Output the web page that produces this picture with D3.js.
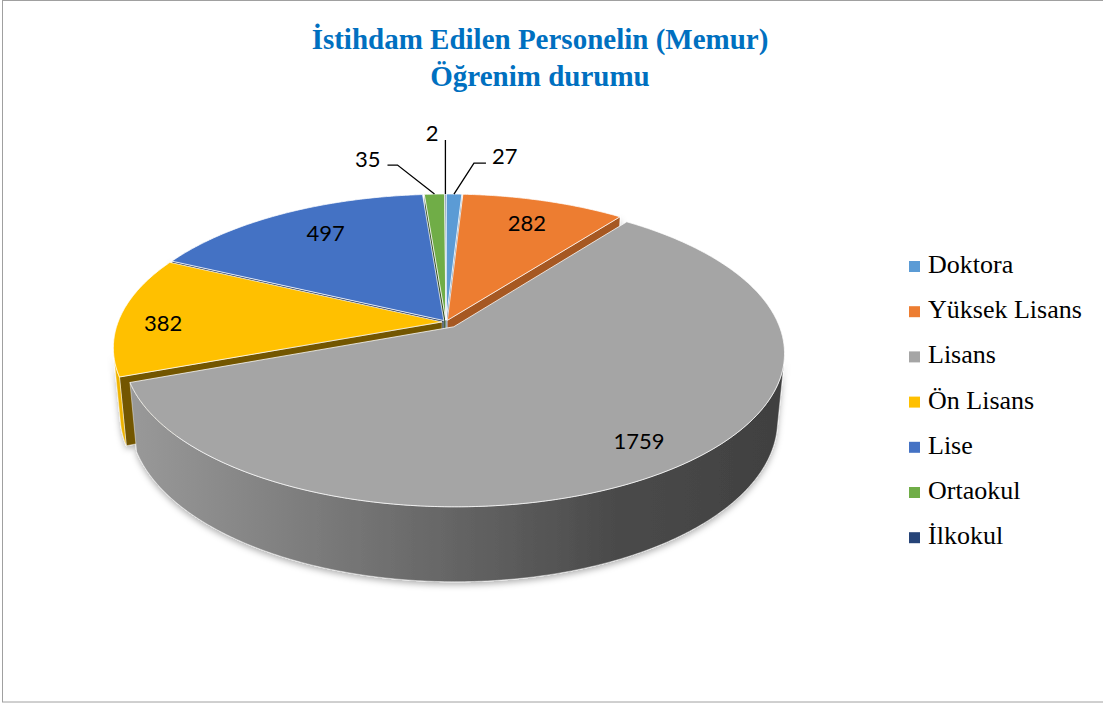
<!DOCTYPE html>
<html><head><meta charset="utf-8">
<script src="https://cdn.jsdelivr.net/npm/d3@7"></script>
<style>body{margin:0;background:#fff}</style>
</head><body>
<svg id="c" width="1103" height="704"></svg>
<script>
const categories = ["Doktora","Yüksek Lisans","Lisans","Ön Lisans","Lise","Ortaokul","İlkokul"];
const values = [27,282,1759,382,497,35,2];
const colors = ["#5B9BD5","#ED7D31","#A5A5A5","#FFC000","#4472C4","#70AD47","#264478"];
const explode = [0.012,0.012,0.04,0.012,0.012,0.012,0.012];
const titleLines = ["İstihdam Edilen Personelin (Memur)","Öğrenim durumu"];

const W=1103, H=704;
const svg = d3.select("#c");
svg.append("rect").attr("x",2.5).attr("y",0.5).attr("width",W+10).attr("height",701.5)
  .attr("fill","#fff").attr("stroke","#a0a0a0");

// 3D perspective projection
const cx=446, cy=322, phi=27.18*Math.PI/180, Dist=5.295, Foc=324*5.295, thick=0.233;
const sp=Math.sin(phi), cp=Math.cos(phi);
const cam=[0,Dist*sp,Dist*cp];
function proj(p){ const [X,Y,Z]=p; const pu=Y*cp-Z*sp; const pf=-Y*sp-Z*cp; const d=Dist+pf; return [cx+Foc*X/d, cy-Foc*pu/d]; }
const dir = t => [Math.sin(t),0,-Math.cos(t)];
const sub=(a,b)=>[a[0]-b[0],a[1]-b[1],a[2]-b[2]];
const dot=(a,b)=>a[0]*b[0]+a[1]*b[1]+a[2]*b[2];
const dist3=(p)=>Math.hypot(...sub(cam,p));

const defs=svg.append("defs");
const flt=defs.append("filter").attr("id","sh").attr("x","-20%").attr("y","-20%").attr("width","140%").attr("height","150%");
flt.append("feDropShadow").attr("dx",0).attr("dy",3).attr("stdDeviation",3).attr("flood-color","#000").attr("flood-opacity",0.3);

const pie=d3.pie().sort(null).value(d=>d)(values);
const line=d3.line();

const slices=pie.map((p,i)=>{
  const a=p.startAngle,b=p.endAngle,m=(a+b)/2;
  const dm=dir(m); const o=[dm[0]*explode[i],0,dm[2]*explode[i]];
  const rim=(t,y)=>[o[0]+Math.sin(t),y,o[2]-Math.cos(t)];
  const n=Math.max(2,Math.ceil((b-a)/(Math.PI/360)));
  const ts=d3.range(n+1).map(k=>a+(b-a)*k/n);
  return {i,a,b,m,o,rim,ts};
});

// gradients for outer walls
colors.forEach((c,i)=>{
  const g=defs.append("linearGradient").attr("id","g"+i).attr("gradientUnits","userSpaceOnUse")
    .attr("x1",cx-340).attr("x2",cx+340).attr("y1",0).attr("y2",0);
  const base=d3.rgb(c);
  [[0,0.95],[0.5,0.62],[0.75,0.45],[1,0.39]].forEach(([off,f])=>{
    g.append("stop").attr("offset",off).attr("stop-color",d3.rgb(base.r*f,base.g*f,base.b*f).formatHex());
  });
});

const walls=[];
slices.forEach(s=>{
  const base=d3.rgb(colors[s.i]);
  const scale=f=>d3.rgb(base.r*f,base.g*f,base.b*f).formatHex();
  // outer wall
  const vis=s.ts.filter(t=>dot(sub(cam,s.rim(t,0)),dir(t))>0);
  if(vis.length>=2){
    const top=vis.map(t=>proj(s.rim(t,0)));
    const bot=vis.slice().reverse().map(t=>proj(s.rim(t,-thick)));
    const mid=vis[Math.floor(vis.length/2)];
    walls.push({pts:top.concat(bot),fill:`url(#g${s.i})`,d:dist3(s.rim(mid,-thick/2))});
  }
  // radial faces
  [[s.a,[-Math.cos(s.a),0,-Math.sin(s.a)],0.45],[s.b,[Math.cos(s.b),0,Math.sin(s.b)],0.7]].forEach(([t,nrm,f])=>{
    const r=s.rim(t,0);
    const pm=[(s.o[0]+r[0])/2,-thick/2,(s.o[2]+r[2])/2];
    if(dot(sub(cam,pm),nrm)>0){
      const pts=[proj(s.o),proj(r),proj(s.rim(t,-thick)),proj([s.o[0],-thick,s.o[2]])];
      walls.push({pts,fill:scale(f),d:dist3(pm)});
    }
  });
});
walls.sort((x,y)=>y.d-x.d);
const gW=svg.append("g").attr("filter","url(#sh)");
gW.selectAll("path").data(walls).join("path")
  .attr("d",w=>line(w.pts)+"Z").attr("fill",w=>w.fill)
  .attr("stroke","rgba(255,255,255,0.55)").attr("stroke-width",0.8).attr("stroke-linejoin","round");

const gT=svg.append("g");
gT.selectAll("path").data(slices).join("path")
  .attr("d",s=>line([proj(s.o)].concat(s.ts.map(t=>proj(s.rim(t,0)))))+"Z")
  .attr("fill",s=>colors[s.i])
  .attr("stroke","rgba(255,255,255,0.75)").attr("stroke-width",1).attr("stroke-linejoin","round");

// data labels (radius fraction, angle shift in degrees)
const labelFont="Lato, 'Open Sans', sans-serif";
const inLabel={1:[0.8,0],2:[0.84,0],3:[0.86,-3],4:[0.78,3]};
const gL=svg.append("g").attr("font-family",labelFont).attr("font-size",22).attr("fill","#000");
slices.forEach(s=>{
  const cfg=inLabel[s.i];
  if(cfg){
    const d=dir(s.m+cfg[1]*Math.PI/180), r=cfg[0];
    const p=proj([s.o[0]+d[0]*r,0,s.o[2]+d[2]*r]);
    gL.append("text").attr("x",p[0]).attr("y",p[1]).attr("text-anchor","middle")
      .attr("dominant-baseline","central").text(values[s.i]);
  }
});
// leader-lined labels for thin slices
const leaders={
  0:{path:[[20,-31],[32,-31]],text:[38,-39],anchor:"start"},
  5:{path:[[-37,-29],[-47,-29]],text:[-54,-36],anchor:"end"},
  6:{path:[[0,-54]],text:[-7,-61],anchor:"end"}
};
Object.entries(leaders).forEach(([k,cfg])=>{
  const s=slices[+k];
  const p=proj(s.rim(s.m,0));
  const pts=[p].concat(cfg.path.map(q=>[p[0]+q[0],p[1]+q[1]]));
  svg.append("path").attr("d",line(pts)).attr("fill","none").attr("stroke","#000").attr("stroke-width",1.3);
  gL.append("text").attr("x",p[0]+cfg.text[0]).attr("y",p[1]+cfg.text[1]).attr("text-anchor",cfg.anchor)
    .attr("dominant-baseline","central").text(values[s.i]);
});

// title
svg.append("g").attr("font-family","'Liberation Serif','Times New Roman',serif").attr("font-weight","bold")
  .attr("font-size",29).attr("fill","#0070C0").attr("text-anchor","middle")
  .selectAll("text").data(titleLines).join("text").attr("x",540).attr("y",(d,i)=>49+i*37).text(d=>d);

// legend
const lg=svg.append("g").attr("font-family","'Liberation Serif','Times New Roman',serif").attr("font-size",26).attr("fill","#000");
const items=lg.selectAll("g").data(categories).join("g").attr("transform",(d,i)=>`translate(909,${273+i*45.2})`);
items.append("rect").attr("x",0).attr("y",-12).attr("width",11).attr("height",11).attr("fill",(d,i)=>colors[i]);
items.append("text").attr("x",19).attr("y",0).text(d=>d);
</script>
</body></html>
